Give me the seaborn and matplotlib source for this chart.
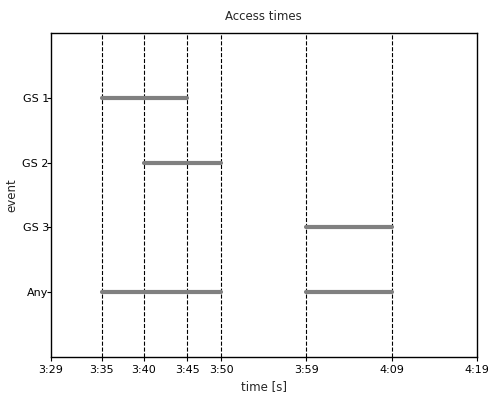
import pandas as pd
import matplotlib
matplotlib.use("Agg")
import matplotlib.pyplot as plt
import seaborn as sns

# access windows, seconds since 0:00
EVENTS = ["GS 1", "GS 2", "GS 3", "Any"]
EVENT_POS = [1, 2, 3, 4]
SEG_EVENT = ["GS 1", "GS 2", "GS 3", "Any", "Any"]
SEG_START = [215.0, 219.9, 239.0, 215.0, 239.0]
SEG_END = [225.0, 229.0, 249.0, 229.0, 249.0]

TICK_POS = [209.0, 215.0, 219.9, 225.0, 229.0, 239.0, 249.0, 259.0]
TICK_LABELS = ["3:29", "3:35", "3:40", "3:45", "3:50", "3:59", "4:09", "4:19"]

sns.set_style("white")
plt.rcParams.update({
    "font.family": "DejaVu Sans",
    "font.size": 8,
    "axes.edgecolor": "black",
    "axes.linewidth": 1.0,
    "xtick.bottom": True,
    "ytick.left": True,
    "xtick.major.size": 3,
    "ytick.major.size": 3,
    "xtick.color": "black",
    "ytick.color": "black",
})

pos = dict(zip(EVENTS, EVENT_POS))
rows = []
for i, (ev, s, e) in enumerate(zip(SEG_EVENT, SEG_START, SEG_END)):
    rows.append({"seg": i, "event": ev, "time": s, "y": pos[ev]})
    rows.append({"seg": i, "event": ev, "time": e, "y": pos[ev]})
df = pd.DataFrame(rows)

fig = plt.figure(figsize=(4.89, 3.96), dpi=100)
ax = fig.add_axes([0.104, 0.0985, 0.871, 0.8185])

# dashed markers at every window boundary
for t in sorted(set(SEG_START + SEG_END)):
    ax.axvline(t, color="black", linestyle="--", linewidth=0.8, zorder=1)

sns.lineplot(data=df, x="time", y="y", units="seg", estimator=None,
             sort=False, color="#808080", linewidth=3, ax=ax, zorder=2)

ax.set_xlim(TICK_POS[0], TICK_POS[-1])
ax.set_ylim(5, 0)
ax.set_xticks(TICK_POS)
ax.set_xticklabels(TICK_LABELS)
ax.set_yticks(EVENT_POS)
ax.set_yticklabels(EVENTS)
ax.tick_params(axis="y", pad=-1.5)
ax.tick_params(axis="x", pad=2.5)
ax.set_xlabel("time [s]", fontsize=8.5)
ax.set_ylabel("event", fontsize=8.5, labelpad=3)
ax.set_title("Access times", fontsize=8.5, pad=9)
for sp in ax.spines.values():
    sp.set_visible(True)
    sp.set_color("black")

fig.savefig("out.png", dpi=100)
